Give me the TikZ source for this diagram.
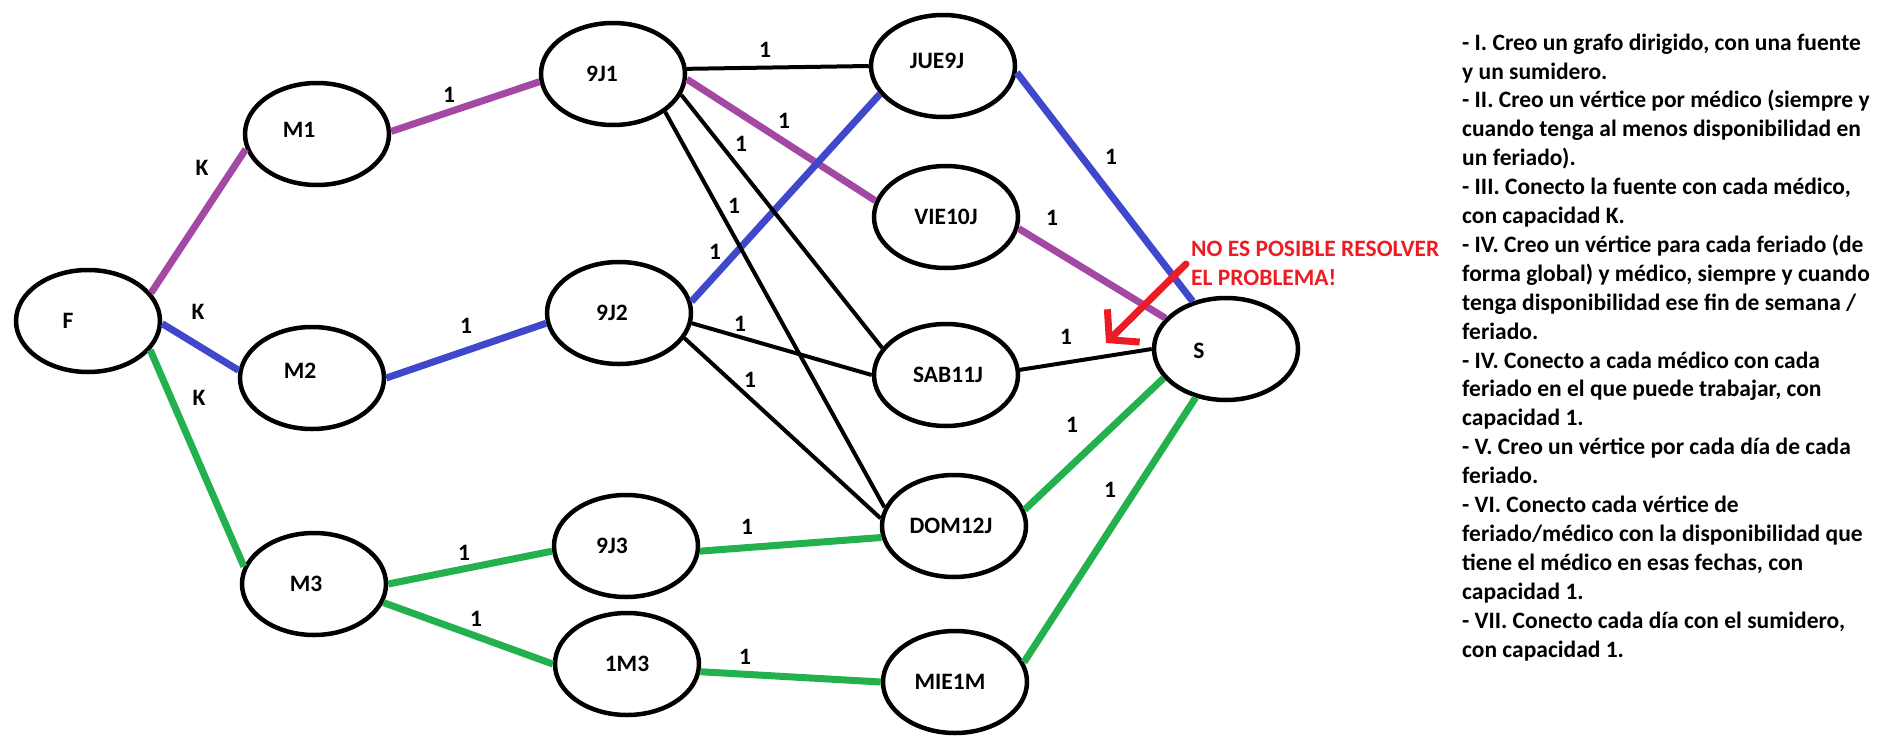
\documentclass[tikz,border=0pt]{standalone}
\usepackage{fontspec}
\setmainfont{Carlito}
\usetikzlibrary{shapes.geometric, arrows.meta}
\definecolor{violeta}{RGB}{163,73,164}
\definecolor{azul}{RGB}{63,72,204}
\definecolor{verde}{RGB}{34,177,76}
\definecolor{rojo}{RGB}{237,28,36}
\begin{document}
\begin{tikzpicture}[x=1pt, y={(0pt,-1pt)},
    every node/.style={font=\bfseries\fontsize{23.5}{28.9}\selectfont},
    vertice/.style={ellipse, draw, line width=4.5pt, minimum width=144pt, minimum height=102pt, inner sep=0pt},
    arista/.style={line width=4pt},
    camino/.style={line width=7pt},
    texto/.style={inner sep=0pt}]
    \useasboundingbox (0,0) rectangle (1898,747);

    % Vertices
    \node[vertice, label={[xshift=-20pt]center:F}] (F) at (88,321) {};
    \node[vertice, label={[xshift=-18pt, yshift=4pt]center:M1}] (M1) at (317,134) {};
    \node[vertice, label={[xshift=-12pt, yshift=7pt]center:M2}] (M2) at (312,378) {};
    \node[vertice, label={[xshift=-8pt]center:M3}] (M3) at (314,584) {};
    \node[vertice, label={[xshift=-11pt]center:9J1}] (9J1) at (613,74) {};
    \node[vertice, label={[xshift=-7pt]center:9J2}] (9J2) at (619,313) {};
    \node[vertice, label={[xshift=-14pt]center:9J3}] (9J3) at (626,546) {};
    \node[vertice, label={center:1M3}] (1M3) at (627,664) {};
    \node[vertice, label={[xshift=-6pt, yshift=5pt]center:JUE9J}] (JUE9J) at (943,66) {};
    \node[vertice, label={center:VIE10J}] (VIE10J) at (946,217) {};
    \node[vertice, label={[xshift=2pt]center:SAB11J}] (SAB11J) at (946,375) {};
    \node[vertice, label={[xshift=-3pt]center:DOM12J}] (DOM12J) at (954,526) {};
    \node[vertice, label={[xshift=-5pt]center:MIE1M}] (MIE1M) at (955,682) {};
    \node[vertice, label={[xshift=-27pt, yshift=-2pt]center:S}] (S) at (1226,349) {};

    % Camino violeta
    \draw[camino, violeta] (F.24) -- (M1.192);
    \draw[camino, violeta] (M1.2) -- (9J1.186);
    \draw[camino, violeta] (9J1.-4) -- (VIE10J.167);
    \draw[camino, violeta] (VIE10J.-9) -- (S.153);

    % Camino azul
    \draw[camino, azul] (F.-2) -- (M2.174);
    \draw[camino, azul] (M2.0) -- (9J2.188);
    \draw[camino, azul] (9J2.9) -- (JUE9J.204);
    \draw[camino, azul] (JUE9J.-5) -- (S.125);

    % Camino verde
    \draw[camino, verde] (F.-25) -- (M3.166);
    \draw[camino, verde] (M3.0) -- (9J3.184);
    \draw[camino, verde] (M3.-15) -- (1M3.180);
    \draw[camino, verde] (9J3.-4) -- (DOM12J.189);
    \draw[camino, verde] (1M3.-6) -- (MIE1M.180);
    \draw[camino, verde] (DOM12J.13) -- (S.205);
    \draw[camino, verde] (MIE1M.16) -- (S.238);

    % Aristas sin flujo
    \draw[arista] (9J1.4) -- (JUE9J.180);
    \draw[arista] (9J1.-17) -- (SAB11J.157);
    \draw[arista] (9J1.-36) -- (DOM12J.165);
    \draw[arista] (9J2.-8) -- (SAB11J.180);
    \draw[arista] (9J2.-21) -- (DOM12J.174);
    \draw[arista] (SAB11J.4) -- (S.180);

    % Capacidades
    \foreach \n/\x/\y/\t in {kM1/202/168/K, kM2/198/312/K, kM3/199/398/K,
        c1/449/95/1, c2/466/326/1, c3/464/553/1, c4/476/619/1,
        c5/765/50/1, c6/784/121/1, c7/741/144/1, c8/734/206/1, c9/715/252/1,
        c10/740/324/1, c11/750/380/1, c12/747/527/1, c13/745/657/1,
        c14/1111/157/1, c15/1052/218/1, c16/1066/337/1, c17/1072/425/1, c18/1110/490/1}
        \node[texto] (\n) at (\x,\y) {\t};

    % Aviso
    \node[texto, anchor=base west, align=left, text=rojo] (aviso) at (1191,285) {NO ES POSIBLE RESOLVER\\EL PROBLEMA!};
    \coordinate (flechaA) at (1186,264);
    \coordinate (flechaB) at (1106,343);
    \draw[rojo, line width=7pt, line cap=round, -{Straight Barb[length=20pt, width=46pt]}] (flechaA) -- (flechaB);

    % Pasos
    \node[texto, anchor=base west, align=left] (pasos) at (1462,657) {- I. Creo un grafo dirigido, con una fuente\\
        y un sumidero.\\
        - II. Creo un vértice por médico (siempre y\\
        cuando tenga al menos disponibilidad en\\
        un feriado).\\
        - III. Conecto la fuente con cada médico,\\
        con capacidad K.\\
        - IV. Creo un vértice para cada feriado (de\\
        forma global) y médico, siempre y cuando\\
        tenga disponibilidad ese fin de semana /\\
        feriado.\\
        - IV. Conecto a cada médico con cada\\
        feriado en el que puede trabajar, con\\
        capacidad 1.\\
        - V. Creo un vértice por cada día de cada\\
        feriado.\\
        - VI. Conecto cada vértice de\\
        feriado/médico con la disponibilidad que\\
        tiene el médico en esas fechas, con\\
        capacidad 1.\\
        - VII. Conecto cada día con el sumidero,\\
        con capacidad 1.};
\end{tikzpicture}
\end{document}
